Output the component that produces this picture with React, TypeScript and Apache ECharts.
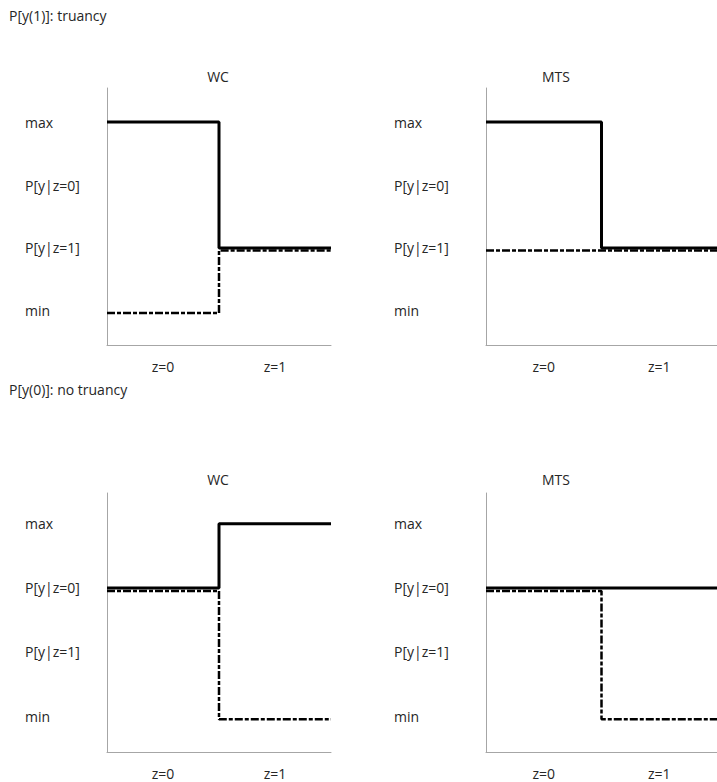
import React, { useEffect, useRef } from "react";
import * as echarts from "echarts";

// Level codes: 1 = min, 2 = P[y|z=1], 3 = P[y|z=0], 4 = max
const levelLabels: Record<number, string> = { 1: "min", 2: "P[y|z=1]", 3: "P[y|z=0]", 4: "max" };
const levelTicks = [1, 2, 3, 4];
const xCategories = ["z=0", "z=1"];
const xTickPos = [0.5, 1.5];
const sectionTitles = ["P[y(1)]: truancy", "P[y(0)]: no truancy"];
const panelTitles = ["WC", "MTS", "WC", "MTS"];

// [x, level] points of each bound (upper = solid, lower = dashed)
const upperTopWC = [[0, 4], [1, 4], [1, 2], [2, 2]];
const lowerTopWC = [[0, 0.97], [1, 0.97], [1, 1.96], [2, 1.96]];
const upperTopMTS = [[0, 4], [1, 4], [1, 2], [2, 2]];
const lowerTopMTS = [[0, 1.96], [2, 1.96]];
const upperBotWC = [[0, 3], [1, 3], [1, 4], [2, 4]];
const lowerBotWC = [[0, 2.95], [1, 2.95], [1, 0.95], [2, 0.95]];
const upperBotMTS = [[0, 3], [2, 3]];
const lowerBotMTS = [[0, 2.95], [1, 2.95], [1, 0.95], [2, 0.95]];

const FONT = "'Open Sans', sans-serif";
const TEXT = "#262626";
const AXIS = "#a6a6a6";
const FS = 14;

export default function App() {
  const ref = useRef<HTMLDivElement>(null);
  useEffect(() => {
    if (!ref.current) return;
    const chart = echarts.init(ref.current, undefined, { renderer: "svg" });
    const grids = [
      { left: 107, top: 88, width: 224, height: 257 },
      { left: 486, top: 88, width: 234, height: 257 },
      { left: 107, top: 493, width: 224, height: 259 },
      { left: 486, top: 493, width: 234, height: 259 },
    ];
    const yRanges = [
      [0.46, 4.54],
      [0.46, 4.54],
      [0.44, 4.48],
      [0.44, 4.48],
    ];
    const labelMargins = [82, 92, 82, 92];
    const xAxis = grids.map((_, i) => ({
      type: "value",
      gridIndex: i,
      min: 0,
      max: 2,
      splitLine: { show: false },
      axisTick: { show: false },
      axisLine: { show: true, onZero: false, lineStyle: { color: AXIS, width: 1 } },
      axisLabel: {
        customValues: xTickPos,
        formatter: (v: number) => (v < 1 ? xCategories[0] : xCategories[1]),
        color: TEXT,
        fontFamily: FONT,
        fontSize: FS,
        margin: 14,
      },
    }));
    const yAxis = grids.map((_, i) => ({
      type: "value",
      gridIndex: i,
      min: yRanges[i][0],
      max: yRanges[i][1],
      splitLine: { show: false },
      axisTick: { show: false },
      axisLine: { show: true, onZero: false, lineStyle: { color: AXIS, width: 1 } },
      axisLabel: {
        customValues: levelTicks,
        formatter: (v: number) => levelLabels[Math.round(v)] || "",
        color: TEXT,
        fontFamily: FONT,
        fontSize: FS,
        align: "left",
        margin: labelMargins[i],
        padding: [5, 0, 0, 0],
      },
    }));
    const pairs = [
      [upperTopWC, lowerTopWC],
      [upperTopMTS, lowerTopMTS],
      [upperBotWC, lowerBotWC],
      [upperBotMTS, lowerBotMTS],
    ];
    const series: any[] = [];
    pairs.forEach(([up, low], i) => {
      series.push({
        type: "line",
        xAxisIndex: i,
        yAxisIndex: i,
        data: low,
        showSymbol: false,
        clip: false,
        z: 2,
        lineStyle: { color: "#000", width: 2.5, type: [8, 2, 4, 2] },
      });
      series.push({
        type: "line",
        xAxisIndex: i,
        yAxisIndex: i,
        data: up,
        showSymbol: false,
        clip: false,
        z: 3,
        lineStyle: { color: "#000", width: 3 },
      });
    });
    const titlePos = [
      [218, 76],
      [556, 76],
      [218, 479],
      [556, 479],
    ];
    const graphic: any[] = [
      ...panelTitles.map((t, i) => ({
        type: "text",
        x: titlePos[i][0],
        y: titlePos[i][1],
        style: { text: t, fill: TEXT, font: `${FS}px ${FONT}`, align: "center", verticalAlign: "middle" },
      })),
      {
        type: "text",
        x: 9,
        y: 15,
        style: { text: sectionTitles[0], fill: TEXT, font: `${FS}px ${FONT}`, align: "left", verticalAlign: "middle" },
      },
      {
        type: "text",
        x: 9,
        y: 389,
        style: { text: sectionTitles[1], fill: TEXT, font: `${FS}px ${FONT}`, align: "left", verticalAlign: "middle" },
      },
    ];
    chart.setOption({
      animation: false,
      backgroundColor: "#ffffff",
      grid: grids,
      xAxis,
      yAxis,
      series,
      graphic,
    });
    return () => chart.dispose();
  }, []);
  return (
    <div
      ref={ref}
      style={{ position: "absolute", left: 0, top: 0, width: 717, height: 782, background: "#fff" }}
    />
  );
}
